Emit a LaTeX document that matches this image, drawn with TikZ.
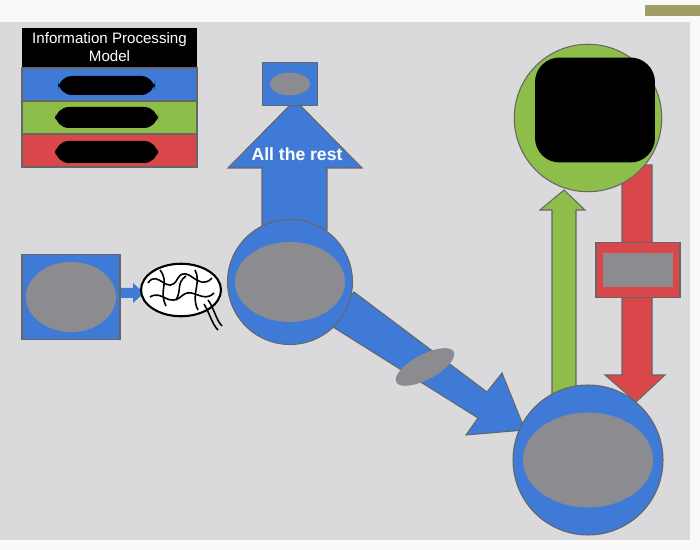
\documentclass[tikz,border=0pt]{standalone}
\usepackage{fontspec}
\setmainfont{Liberation Sans}
\usetikzlibrary{shapes.geometric}
\definecolor{bl}{HTML}{3F7BD6}
\definecolor{gr}{HTML}{8DBE4A}
\definecolor{rd}{HTML}{D9474A}
\definecolor{bg}{HTML}{DADADC}
\definecolor{gy}{HTML}{8C8C90}
\tikzset{
 edge/.style={draw=black!60,line width=0.6pt},
 blob/.style={fill=gy,ellipse},
 redact/.style={fill=black,rounded corners=8pt},
}
\begin{document}
\begin{tikzpicture}[x=0.02cm,y=-0.02cm]
\useasboundingbox (0,0) rectangle (700,550);
\fill[white!95!gray] (0,0) rectangle (700,550);
\fill[bg] (0,22) rectangle (690,540);
\fill[olive!60!black!60] (645,5) rectangle (700,16);
% legend
\fill[black] (22,28) rectangle (197,68);
\node[text=white,align=center,inner sep=0pt,font=\fontsize{8.6}{10}\selectfont] (title) at (109.5,47) {Information Processing\\Model};
\fill[bl,edge] (22,68) rectangle (197,101);
\fill[gr,edge] (22,101) rectangle (197,134);
\fill[rd,edge] (22,134) rectangle (197,167);
\fill[redact] (58,76) rectangle (155,95);
\fill[redact] (55,107) rectangle (158,128);
\fill[redact] (55,141) rectangle (158,163);
% up arrow
\fill[bl,edge] (262,230) -- (262,168) -- (228,168) -- (295,100) -- (362,168) -- (327,168) -- (327,230) -- cycle;
\node[text=white,font=\bfseries\fontsize{10}{12}\selectfont] (rest) at (297,154) {All the rest};
\node[fill=bl,edge,minimum width=1.1cm,minimum height=0.85cm] (topbox) at (290,84) {};
\node[blob,minimum width=0.8cm,minimum height=0.45cm] at (topbox) {};
% diagonal arrow
\fill[bl,edge] (325,322) -- (354,292) -- (487,392) -- (502,373) -- (525,430) -- (466,435) -- (478,418) -- cycle;
\node[blob,rotate=28,minimum width=1.3cm,minimum height=0.5cm] (dblob) at (425,367) {};
% center circle
\node[circle,fill=bl,edge,minimum size=2.5cm] (mid) at (290,282) {};
\node[blob,minimum width=2.2cm,minimum height=1.6cm] at (mid) {};
% left box
\node[fill=bl,edge,minimum width=1.96cm,minimum height=1.7cm] (input) at (71,297) {};
\node[blob,minimum width=1.8cm,minimum height=1.4cm] at (input) {};
\fill[bl] (121,288) -- (133,288) -- (133,283) -- (144,293) -- (133,303) -- (133,298) -- (121,298) -- cycle;
% brain
\node[ellipse,draw=black,line width=1.2pt,fill=white,minimum width=1.6cm,minimum height=1.05cm] (brain) at (181,290) {};
\begin{scope}[line width=0.9pt]
\draw (148,283) .. controls (158,268) and (168,298) .. (178,278) .. controls (188,263) and (198,293) .. (212,278);
\draw (150,297) .. controls (163,289) and (168,309) .. (183,295) .. controls (193,287) and (203,304) .. (214,293);
\draw (160,270) .. controls (170,283) and (158,290) .. (166,306);
\draw (176,300) .. controls (182,290) and (176,283) .. (186,276);
\draw (195,270) .. controls (202,283) and (190,295) .. (198,310);
\draw (204,304) .. controls (210,314) and (212,324) .. (218,330);
\draw (208,300) .. controls (214,308) and (216,320) .. (222,326);
\end{scope}
% green up arrow
\fill[gr,edge] (552,395) -- (552,210) -- (540,210) -- (564,190) -- (585,210) -- (576,210) -- (576,395) -- cycle;
% red down arrow
\fill[rd,edge] (622,165) -- (652,165) -- (652,375) -- (665,375) -- (636,402) -- (605,375) -- (622,375) -- cycle;
\node[fill=rd,edge,minimum width=1.68cm,minimum height=1.1cm] (redbox) at (638,270) {};
\node[fill=gy,minimum width=1.4cm,minimum height=0.7cm] at (redbox) {};
% circles
\node[circle,fill=bl,edge,minimum size=3cm] (bottom) at (588,460) {};
\node[blob,minimum width=2.6cm,minimum height=1.9cm] at (bottom) {};
\node[circle,fill=gr,edge,minimum size=2.95cm] (top) at (588,118) {};
\node[fill=black,rounded corners=14pt,minimum width=2.4cm,minimum height=2.1cm] at (595,110) {};
\end{tikzpicture}
\end{document}
